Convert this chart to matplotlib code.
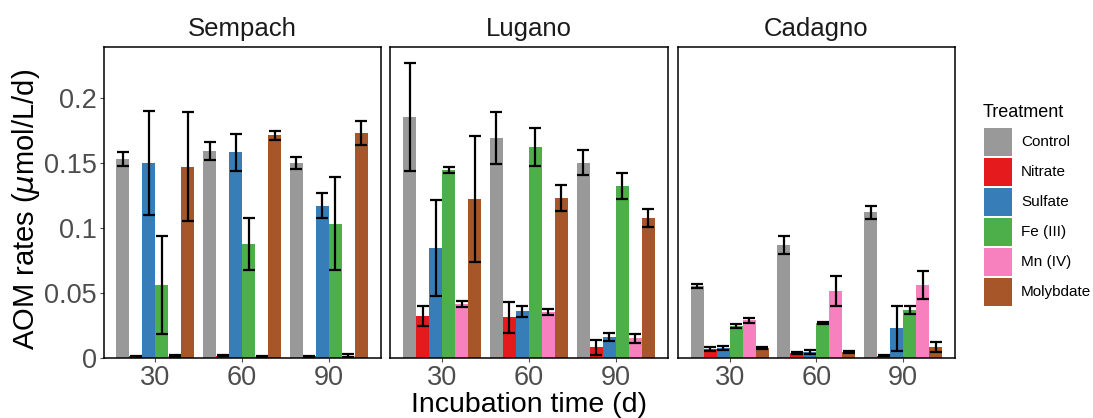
import matplotlib
matplotlib.use("Agg")
import matplotlib.pyplot as plt
from matplotlib.patches import Patch
import numpy as np

plt.rcParams["font.family"] = ["Liberation Sans", "DejaVu Sans"]

lakes = ["Sempach", "Lugano", "Cadagno"]
days = ["30", "60", "90"]
treatments = ["Control", "Nitrate", "Sulfate", "Fe (III)", "Mn (IV)", "Molybdate"]
colors = ["#999999", "#E41A1C", "#377EB8", "#4DAF4A", "#F781BF", "#A65628"]

# mean AOM rates (umol/L/d), one row per treatment, columns = 30/60/90 d
sempach_mean = [
    [0.153, 0.159, 0.150],
    [0.0010, 0.0015, 0.0008],
    [0.150, 0.158, 0.117],
    [0.0558, 0.0874, 0.103],
    [0.0015, 0.0008, 0.0015],
    [0.147, 0.171, 0.173],
]
sempach_sd = [
    [0.0055, 0.0070, 0.0045],
    [0.0005, 0.0005, 0.0003],
    [0.0400, 0.0140, 0.0095],
    [0.0380, 0.0200, 0.0360],
    [0.0008, 0.0004, 0.0012],
    [0.0420, 0.0035, 0.0090],
]
lugano_mean = [
    [0.185, 0.169, 0.150],
    [0.032, 0.031, 0.008],
    [0.0843, 0.0357, 0.0157],
    [0.1445, 0.162, 0.132],
    [0.0411, 0.035, 0.0149],
    [0.122, 0.123, 0.1075],
]
lugano_sd = [
    [0.0415, 0.0200, 0.0095],
    [0.0080, 0.0118, 0.0058],
    [0.0370, 0.0042, 0.0030],
    [0.0025, 0.0147, 0.0103],
    [0.0025, 0.0021, 0.0034],
    [0.0485, 0.0102, 0.0068],
]
cadagno_mean = [
    [0.055, 0.0866, 0.112],
    [0.0067, 0.0036, 0.0015],
    [0.0072, 0.0041, 0.0226],
    [0.0242, 0.0265, 0.0365],
    [0.0288, 0.0512, 0.0558],
    [0.0072, 0.0041, 0.0080],
]
cadagno_sd = [
    [0.0018, 0.0068, 0.0050],
    [0.0015, 0.0008, 0.0007],
    [0.0016, 0.0016, 0.0173],
    [0.0017, 0.0008, 0.0032],
    [0.0019, 0.0115, 0.0108],
    [0.0008, 0.0007, 0.0039],
]

means = [sempach_mean, lugano_mean, cadagno_mean]
sds = [sempach_sd, lugano_sd, cadagno_sd]

y_ticks = [0, 0.05, 0.1, 0.15, 0.2]
y_tick_labels = ["0", "0.05", "0.1", "0.15", "0.2"]

W, H = 1093, 418
fig = plt.figure(figsize=(W / 100, H / 100), dpi=100)

panel_left = [103.5, 390.3, 677.7]
panel_w = 277.3
bottom_px, top_px = 357.5, 46.5

bar_w = 0.15
x = np.arange(len(days))
tick_col = "#4D4D4D"

for p, lake in enumerate(lakes):
    ax = fig.add_axes([panel_left[p] / W, 1 - bottom_px / H,
                       panel_w / W, (bottom_px - top_px) / H])
    m = np.array(means[p])
    s = np.array(sds[p])
    for i, (tr, col) in enumerate(zip(treatments, colors)):
        xs = x + (i - 2.5) * bar_w
        ax.bar(xs, m[i], width=bar_w, color=col, linewidth=0, zorder=2)
        ax.errorbar(xs, m[i], yerr=s[i], fmt="none", ecolor="black",
                    elinewidth=1.6, capsize=4, capthick=1.6, zorder=3)
    ax.set_xlim(-0.6, 2.6)
    ax.set_ylim(0, 0.2395)
    ax.set_xticks(x)
    ax.set_xticklabels(days)
    ax.set_yticks(y_ticks)
    if p == 0:
        ax.set_yticklabels(y_tick_labels)
        ax.tick_params(axis="y", length=3.2, width=0.8, colors=tick_col,
                       labelsize=19.5, pad=1.5)
    else:
        ax.tick_params(axis="y", left=False, labelleft=False)
    ax.tick_params(axis="x", length=3.2, width=0.8, colors=tick_col,
                   labelsize=19.5, pad=2.5)
    for sp in ax.spines.values():
        sp.set_linewidth(1.1)
        sp.set_color("black")
    ax.set_title(lake, fontsize=18.5, color="#1A1A1A", pad=7.5)

# axis titles
fig.text(26.5 / W, 1 - 209 / H, "AOM rates ($\\mu$mol/L/d)", rotation=90,
         ha="center", va="center", fontsize=21)
fig.text((panel_left[0] + panel_left[2] + panel_w) / 2 / W, 1 - 411.5 / H,
         "Incubation time (d)", ha="center", va="baseline", fontsize=20.5)

# legend
fig.text(983 / W, 1 - 116.7 / H, "Treatment", ha="left", va="baseline",
         fontsize=13)
handles = [Patch(facecolor=c, edgecolor="none") for c in colors]
fs = 11
fs_px = fs * 100 / 72
key_px = 28
hh = (key_px / fs_px - 0.245) / 0.65
fig.legend(handles, treatments, loc="upper left",
           bbox_to_anchor=(984 / W, 1 - 127.7 / H), frameon=False,
           fontsize=fs, handlelength=key_px / fs_px, handleheight=hh,
           labelspacing=2 / fs_px, handletextpad=9 / fs_px,
           borderaxespad=0, borderpad=0)

fig.savefig("out.png", dpi=100)
